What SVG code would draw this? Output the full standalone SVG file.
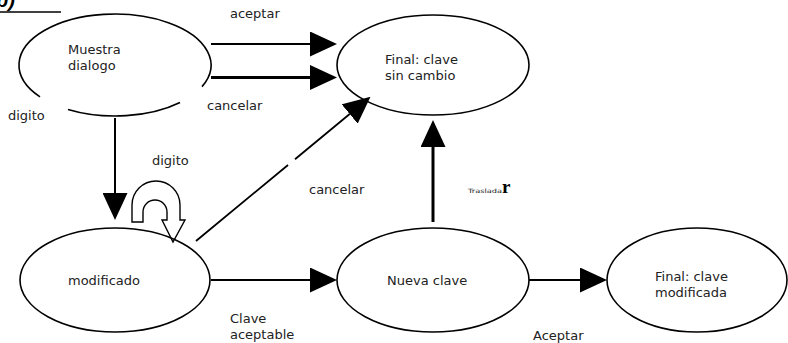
<svg xmlns="http://www.w3.org/2000/svg" width="788" height="343" viewBox="0 0 788 343">
<defs>
<marker id="arrow" markerUnits="userSpaceOnUse" viewBox="0 0 27 25" refX="0" refY="12.5" markerWidth="27" markerHeight="25" orient="auto"><path d="M0,0 L27,12.5 L0,25 Z" fill="#000"/></marker>
</defs>
<style>
.node{fill:#fff;stroke:#000;stroke-width:1.6}
.lbl{font-family:"DejaVu Sans",Verdana,sans-serif;font-size:13px;fill:#222}
.edge{stroke:#000;fill:none}
</style>
<rect width="788" height="343" fill="#fff"/>
<g id="title">
<text x="-4" y="7" font-family="Liberation Sans,Arial,sans-serif" font-size="20" font-weight="bold" font-style="italic" fill="#000">b)</text>
<line x1="0" y1="12" x2="61" y2="12" stroke="#000" stroke-width="1.5"/>
</g>
<g id="muestra">
<path class="node" fill="none" d="M40,96.9 A96,51 0 1 1 202,86.6 M68,109.5 A96,51 0 0 0 180,102.5"/>
<text class="lbl" x="68" y="54">Muestra</text>
<text class="lbl" x="68" y="70">dialogo</text>
</g>
<g id="sincambio">
<ellipse class="node" cx="433" cy="65" rx="96" ry="50"/>
<text class="lbl" x="385" y="64">Final: clave</text>
<text class="lbl" x="385" y="80">sin cambio</text>
</g>
<g id="modificado">
<ellipse class="node" cx="115" cy="280" rx="95" ry="52"/>
<text class="lbl" x="68" y="285">modificado</text>
</g>
<g id="nueva">
<ellipse class="node" cx="433" cy="280" rx="96" ry="52"/>
<text class="lbl" x="387" y="285">Nueva clave</text>
</g>
<g id="finalmod">
<ellipse class="node" cx="697" cy="280" rx="90" ry="52"/>
<text class="lbl" x="655" y="281">Final: clave</text>
<text class="lbl" x="655" y="297">modificada</text>
</g>
<g id="connectors">
<line class="edge" x1="211" y1="44" x2="310" y2="44" stroke-width="2.2" marker-end="url(#arrow)"/>
<line class="edge" x1="211" y1="77.5" x2="310" y2="77.5" stroke-width="3" marker-end="url(#arrow)"/>
<line class="edge" x1="115" y1="118" x2="115" y2="193" stroke-width="2" marker-end="url(#arrow)"/>
<path class="edge" d="M132,222 L132,205 A24,24 0 0 1 180,205 L180,220 L185,220 L173,242 L162,220 L167,220 L167,212 A12,12 0 0 0 143,212 L143,222 Z" fill="#fff" stroke-width="1.4"/>
<path class="edge" d="M196,241 L288,165 M295,159.2 L349.7,114" stroke-width="1.8" marker-end="url(#arrow)"/>
<line class="edge" x1="433" y1="222" x2="433" y2="147" stroke-width="3" marker-end="url(#arrow)"/>
<line class="edge" x1="211" y1="280" x2="310" y2="280" stroke-width="2" marker-end="url(#arrow)"/>
<line class="edge" x1="529" y1="280" x2="580" y2="280" stroke-width="2" marker-end="url(#arrow)"/>
<text class="lbl" x="230" y="18">aceptar</text>
<text class="lbl" x="207" y="110">cancelar</text>
<text class="lbl" x="8" y="120">digito</text>
<text class="lbl" x="152" y="165">digito</text>
<text class="lbl" x="309" y="194">cancelar</text>
<text x="468" y="193" fill="#222"><tspan font-family="DejaVu Sans,sans-serif" font-size="6" textLength="34" lengthAdjust="spacingAndGlyphs">Traslada</tspan><tspan font-family="Liberation Serif,serif" font-size="19" font-weight="bold" fill="#000">r</tspan></text>
<text class="lbl" x="230" y="323">Clave</text>
<text class="lbl" x="230" y="339">aceptable</text>
<text class="lbl" x="533" y="340">Aceptar</text>
</g>
</svg>
